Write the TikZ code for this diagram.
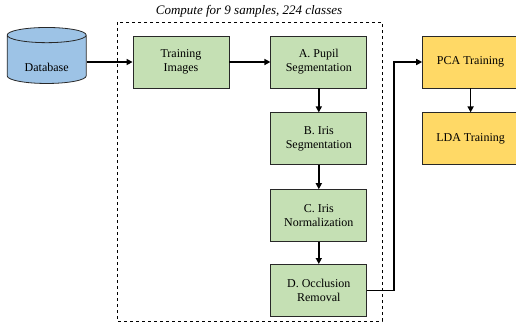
\documentclass[tikz,border=0pt]{standalone}
\definecolor{stepgreen}{RGB}{197, 224, 180}
\definecolor{dbblue}{RGB}{157, 195, 230}
\definecolor{trainyellow}{RGB}{255, 217, 102}
\definecolor{edgegray}{RGB}{40, 40, 40}
\usepackage{fontspec}
\setmainfont{Liberation Serif}
\usepackage{tikz}
\usetikzlibrary{shapes, arrows.meta, positioning, calc}

\tikzset{
  procbox/.style={draw=edgegray, line width=0.8pt, fill=stepgreen, minimum width=96pt, minimum height=52pt, align=center, font=\fontsize{12}{14}\selectfont},
  learnbox/.style={procbox, fill=trainyellow},
  flow/.style={-{Triangle[length=6pt, width=6pt]}, line width=1.6pt}
}

\begin{document}
\begin{tikzpicture}[x=1pt, y=1pt]
  \useasboundingbox (0,0) rectangle (516,-322);

  % processing chain
  \node[procbox] (train) at (181,-62) {Training\\Images};
  \node[procbox, right=41pt of train] (pupil) {A. Pupil\\Segmentation};
  \node[procbox, below=24pt of pupil] (iris) {B. Iris\\Segmentation};
  \node[procbox, below=24pt of iris] (norm) {C. Iris\\Normalization};
  \node[procbox, below=22pt of norm] (occl) {D. Occlusion\\Removal};

  % database
  \node[cylinder, shape border rotate=90, aspect=0.3, draw=edgegray, line width=0.8pt, fill=dbblue, minimum width=79pt, minimum height=56pt, font=\fontsize{12}{14}\selectfont, left=46pt of train, yshift=1pt] (db) {\raisebox{-10pt}[0pt][0pt]{Database}};

  % training stage
  \node[learnbox, right=55pt of pupil] (pca) {PCA Training};
  \node[learnbox, below=24pt of pca] (lda) {LDA Training};

  % dashed frame
  \draw[dashed, line width=0.6pt] (117,-22) rectangle (382,-321);
  \node[font=\fontsize{13}{15}\selectfont\itshape] (caption) at (249,-11) {Compute for 9 samples, 224 classes};

  \draw[flow] (db.east |- train) -- (train);
  \draw[flow] (train) -- (pupil);
  \draw[flow] (pupil) -- (iris);
  \draw[flow] (iris) -- (norm);
  \draw[flow] (norm) -- (occl);
  \draw[flow] (occl.east) -- ++(27pt,0) |- (pca.west);
  \draw[flow] (pca) -- (lda);
\end{tikzpicture}
\end{document}
